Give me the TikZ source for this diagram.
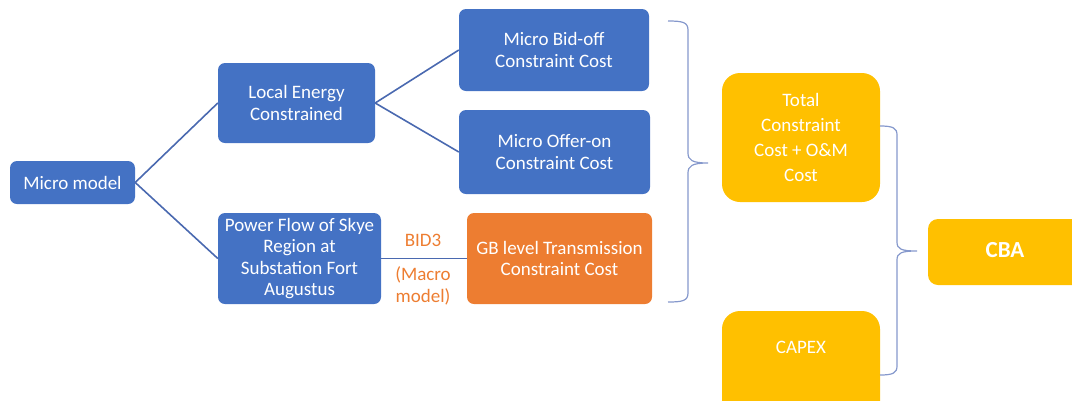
\documentclass[tikz,border=0pt]{standalone}
\usepackage{fontspec}
\setmainfont{Carlito}
\definecolor{bblue}{HTML}{4472C4}
\definecolor{borange}{HTML}{ED7D31}
\definecolor{bgold}{HTML}{FFC000}
\definecolor{lineblue}{HTML}{4A69B0}
\definecolor{braceblue}{HTML}{8598CC}
\tikzset{
  bluebox/.style={fill=bblue, rounded corners=7pt, text=white, align=center, inner sep=2pt,
    font=\fontsize{19}{21.5}\selectfont},
  orangebox/.style={fill=borange, rounded corners=7pt, text=white, align=center, inner sep=2pt,
    font=\fontsize{19}{21.5}\selectfont},
  goldbox/.style={fill=bgold, rounded corners=18pt, text=white, align=center, inner sep=2pt,
    font=\fontsize{19}{25}\selectfont},
  conn/.style={draw=lineblue, line width=1.6pt},
  bracestyle/.style={draw=braceblue, line width=1.2pt},
  olabel/.style={text=borange, align=center, font=\fontsize{19}{21.5}\selectfont}
}
\begin{document}
\begin{tikzpicture}[x=1pt,y=-1pt]
\useasboundingbox (0,0) rectangle (1072,400);
\node[bluebox, minimum width=125pt, minimum height=43pt] (mm) at (72.5,182.5) {Micro model};
\node[bluebox, minimum width=157pt, minimum height=80pt] (le) at (296.5,103) {Local Energy\\Constrained};
\node[bluebox, minimum width=163pt, minimum height=91pt] (pf) at (299.5,258.5) {Power Flow of Skye\\Region at\\Substation Fort\\Augustus};
\node[bluebox, minimum width=190pt, minimum height=82pt] (bo) at (554,50) {Micro Bid-off\\Constraint Cost};
\node[bluebox, minimum width=191pt, minimum height=84pt] (oo) at (554.5,152) {Micro Offer-on\\Constraint Cost};
\node[orangebox, minimum width=185pt, minimum height=91pt] (gb) at (559.5,258.5) {GB level Transmission\\Constraint Cost};
\node[goldbox, minimum width=158pt, minimum height=129pt] (tc) at (801,137.5) {Total\\Constraint\\Cost + O\&M\\Cost};
\node[goldbox, minimum width=158pt, minimum height=110pt] (cx) at (801,366) {};
\node[text=white, font=\fontsize{19}{21.5}\selectfont] (cxt) at (801,347) {CAPEX};
\node[goldbox, rounded corners=10pt, minimum width=160pt, minimum height=66pt] (cba) at (1008,252) {};
\node[text=white, font=\fontsize{23}{25}\selectfont\bfseries] (cbat) at (1005,250) {CBA};
\node[olabel] (bid) at (423,240) {BID3};
\node[olabel] (macro) at (423,286) {(Macro\\model)};
\draw[conn] (mm.east) -- (le.west);
\draw[conn] (mm.east) -- (pf.west);
\draw[conn] (le.east) -- (bo.west);
\draw[conn] (le.east) -- (oo.west);
\draw[conn] (pf.east) -- (gb.west);
\draw[bracestyle] (668,21) .. controls (682,21) and (688,22) .. (688,30) -- (688,153)
  .. controls (688,160) and (692,163) .. (708,163)
  .. controls (692,163) and (688,166) .. (688,173) -- (688,293)
  .. controls (688,301) and (682,302) .. (668,302);
\draw[bracestyle] (880,126) .. controls (893,126) and (897,128) .. (897,135) -- (897,242)
  .. controls (897,249) and (901,251) .. (917,251)
  .. controls (901,251) and (897,253) .. (897,260) -- (897,366)
  .. controls (897,373) and (893,375) .. (880,375);
\end{tikzpicture}
\end{document}
